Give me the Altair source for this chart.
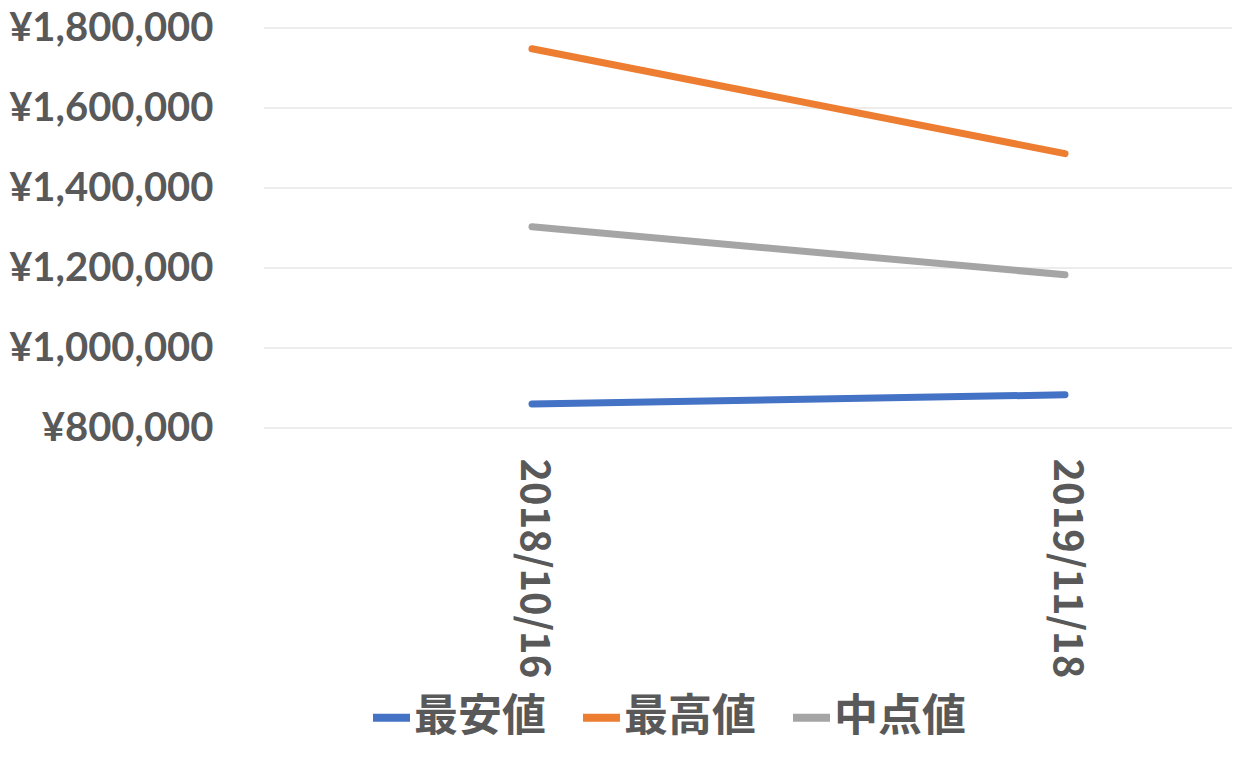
import altair as alt
import pandas as pd

dates = ["2018/10/16", "2019/11/18"]
series_names = ["最安値", "最高値", "中点値"]
low_values = [860000, 883000]
high_values = [1748000, 1486000]
mid_values = [1303000, 1183000]
colors = ["#4472C4", "#ED7D31", "#A5A5A5"]
y_ticks = [800000, 1000000, 1200000, 1400000, 1600000, 1800000]

rows = []
for name, vals in zip(series_names, [low_values, high_values, mid_values]):
    for d, v in zip(dates, vals):
        rows.append({"date": d, "series": name, "value": v})
df = pd.DataFrame(rows)
grid_df = pd.DataFrame({"value": y_ticks})

text_color = "#595959"
W, H = 968, 400
y_scale = alt.Scale(domain=[800000, 1800000], nice=False, zero=False)
y_axis = alt.Axis(title=None, values=y_ticks,
                  labelExpr="'¥' + format(datum.value, ',')",
                  labelFont="Lato", labelFontSize=40, labelFontWeight="bold",
                  labelColor=text_color, ticks=False, tickSize=0, domain=False,
                  grid=False, labelPadding=51, labelLimit=0)

grid = alt.Chart(grid_df).mark_rule(color="#D9D9D9", strokeWidth=1.2).encode(
    y=alt.Y("value:Q", scale=y_scale, axis=y_axis),
    x=alt.value(0),
    x2=alt.value(W),
)

lines = alt.Chart(df).mark_line(strokeWidth=7, strokeCap="round", strokeJoin="round").encode(
    x=alt.X("date:O", sort=dates,
            scale=alt.Scale(type="point", range=[268, 801], padding=0),
            axis=alt.Axis(title=None, labelAngle=90, labelFont="Noto Sans CJK JP",
                          labelFontSize=40, labelFontWeight="bold", labelColor=text_color,
                          ticks=False, tickSize=0, domain=False, grid=False,
                          labelPadding=30, labelBaseline="middle", labelAlign="left",
                          labelLimit=0)),
    y=alt.Y("value:Q", scale=y_scale, axis=y_axis),
    color=alt.Color("series:N", sort=series_names,
                    scale=alt.Scale(domain=series_names, range=colors),
                    legend=alt.Legend(title=None, orient="none", direction="horizontal",
                                      legendX=105, legendY=667,
                                      symbolType="stroke", symbolSize=1369,
                                      symbolStrokeWidth=8,
                                      labelFont="Noto Sans CJK JP", labelFontSize=44,
                                      labelFontWeight="bold", labelColor=text_color,
                                      labelOffset=0, columnPadding=21, padding=0,
                                      labelLimit=0)),
)

chart = alt.layer(grid, lines).properties(
    width=W,
    height=H,
    padding={"left": 256, "top": 20, "right": 0, "bottom": 321},
    autosize=alt.AutoSizeParams(type="none"),
    background="white",
).configure_view(stroke=None)

chart.save("out.html", embed_options={"renderer": "svg", "actions": False})
